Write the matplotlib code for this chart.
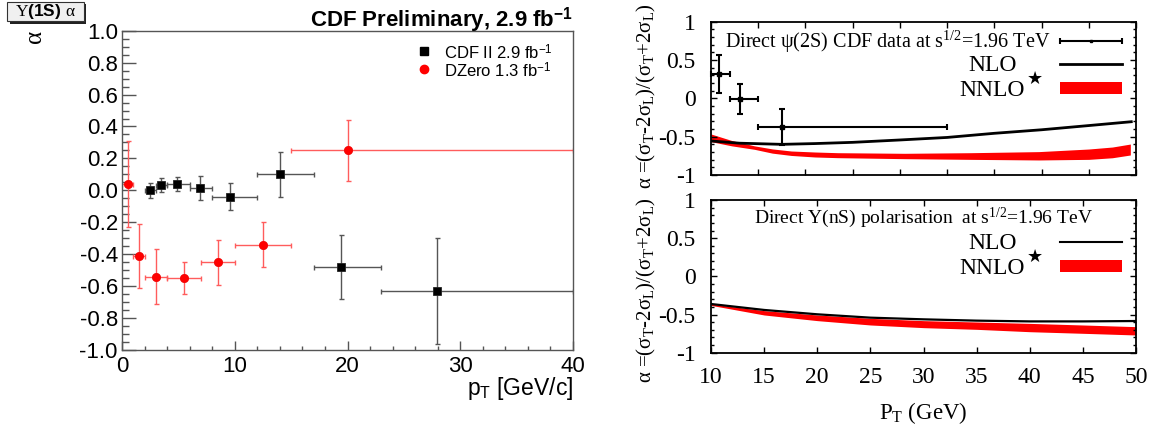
import matplotlib
matplotlib.use("Agg")
import matplotlib.pyplot as plt
from matplotlib.patches import Rectangle
from matplotlib.ticker import MultipleLocator

plt.rcParams['mathtext.fontset'] = 'custom'
plt.rcParams['mathtext.rm'] = 'Liberation Serif'
plt.rcParams['mathtext.it'] = 'Liberation Serif:italic'
plt.rcParams['mathtext.sf'] = 'Liberation Sans'
plt.rcParams['mathtext.bf'] = 'Liberation Sans:bold'

# --- left panel: Upsilon(1S) alpha, CDF vs DZero ---
cdf_pt = [2.5, 3.5, 4.9, 6.9, 9.6, 14.05, 19.45, 27.9]
cdf_xlo = [2, 3, 4, 6, 8, 12, 17, 23]
cdf_xhi = [3, 4, 6, 8, 12, 17, 23, 40]
cdf_alpha = [0.0, 0.035, 0.04, 0.015, -0.04, 0.10, -0.48, -0.63]
cdf_err = [0.045, 0.045, 0.045, 0.075, 0.083, 0.14, 0.20, 0.33]

d0_pt = [0.5, 1.5, 3.0, 5.5, 8.5, 12.5, 20.0]
d0_xlo = [0, 1, 2, 4, 7, 10, 15]
d0_xhi = [1, 2, 4, 7, 10, 15, 40]
d0_alpha = [0.04, -0.41, -0.54, -0.55, -0.45, -0.34, 0.25]
d0_err = [0.27, 0.20, 0.17, 0.10, 0.14, 0.14, 0.19]

# --- right top: direct psi(2S) ---
psi_pt = [5.8, 8.1, 12.5]
psi_xlo = [5, 7, 10]
psi_xhi = [7, 10, 30]
psi_alpha = [0.32, -0.01, -0.37]
psi_err = [0.25, 0.20, 0.235]

psi_nlo_pt = [5, 8, 12.5, 16, 20, 25, 30, 35, 40, 45, 49.5]
psi_nlo = [-0.556, -0.585, -0.60, -0.59, -0.574, -0.543, -0.51, -0.456, -0.41, -0.355, -0.305]

psi_nnlo_pt = [5, 7.2, 9.6, 11.5, 13.5, 16, 18.4, 25.5, 32.5, 39.7, 45, 47.5, 49.4]
psi_nnlo_hi = [-0.465, -0.55, -0.62, -0.66, -0.687, -0.70, -0.709, -0.717, -0.709, -0.695,
               -0.661, -0.635, -0.596]
psi_nnlo_lo = [-0.565, -0.62, -0.665, -0.715, -0.745, -0.765, -0.774, -0.787, -0.796, -0.804,
               -0.796, -0.775, -0.739]

# --- right bottom: direct Upsilon(nS) ---
ups_pt = [10, 15, 20, 25, 30, 35, 40, 45, 50]
ups_nlo = [-0.362, -0.44, -0.497, -0.541, -0.563, -0.58, -0.59, -0.59, -0.585]
ups_nnlo_hi = [-0.362, -0.449, -0.506, -0.55, -0.58, -0.598, -0.616, -0.637, -0.659]
ups_nnlo_lo = [-0.38, -0.506, -0.58, -0.637, -0.672, -0.694, -0.725, -0.746, -0.768]

W, H = 1158, 430
fig = plt.figure(figsize=(W / 100, H / 100), dpi=100)


def box(x0, x1, y0, y1):
    # pixel box -> figure fractions
    return [x0 / W, 1 - y1 / H, (x1 - x0) / W, (y1 - y0) / H]


# ================= left panel (ROOT style) =================
sans = 'Liberation Sans'
ax = fig.add_axes(box(122, 573, 30.7, 350))
ax.set_xlim(0, 40)
ax.set_ylim(-1, 1)

xerr_cdf = [[p - lo for p, lo in zip(cdf_pt, cdf_xlo)], [hi - p for p, hi in zip(cdf_pt, cdf_xhi)]]
ax.errorbar(cdf_pt, cdf_alpha, yerr=cdf_err, xerr=xerr_cdf, fmt='none',
            ecolor='#555555', elinewidth=1, capsize=1.8, capthick=1)
ax.plot(cdf_pt, cdf_alpha, 's', color='black', ms=5.5, mec='#222222', mew=0.6)

xerr_d0 = [[p - lo for p, lo in zip(d0_pt, d0_xlo)], [hi - p for p, hi in zip(d0_pt, d0_xhi)]]
ax.errorbar(d0_pt, d0_alpha, yerr=d0_err, xerr=xerr_d0, fmt='none',
            ecolor='#ff5c5c', elinewidth=1, capsize=1.8, capthick=1)
ax.plot(d0_pt, d0_alpha, 'o', color='#ff0000', ms=6, mec='#ee0000', mew=0.5)

ax.xaxis.set_major_locator(MultipleLocator(10))
ax.xaxis.set_minor_locator(MultipleLocator(2))
ax.yaxis.set_major_locator(MultipleLocator(0.2))
ax.yaxis.set_minor_locator(MultipleLocator(0.05))
ax.set_yticklabels([f"{v:.1f}" for v in ax.get_yticks()])
ax.tick_params(axis='both', which='both', direction='in', top=False, right=False,
               color='#555555', labelsize=16, labelcolor='black')
ax.tick_params(axis='y', which='major', length=10, width=1, pad=3)
ax.tick_params(axis='y', which='minor', length=5, width=1)
ax.tick_params(axis='x', which='major', length=6.5, width=1, pad=4)
ax.tick_params(axis='x', which='minor', length=3.2, width=1)
for lab in ax.get_xticklabels() + ax.get_yticklabels():
    lab.set_fontfamily(sans)
for s in ax.spines.values():
    s.set_color('#555555')
    s.set_linewidth(1)

fig.text(573 / W, 1 - 389 / H, r'p$_{\mathsf{T}}$ [GeV/c]', ha='right', va='center',
         fontsize=16.5, family=sans)
fig.text(573 / W, 1 - 20 / H, r'CDF Preliminary, 2.9 fb$^{\mathbf{-1}}$', ha='right',
         va='center', fontsize=16, family=sans, weight='bold')
fig.text(35 / W, 1 - 36 / H, 'α', rotation=90, ha='center', va='center',
         fontsize=18, family='Liberation Serif')

# legend of left panel
ax.plot([0.67], [0.935], 's', color='black', ms=5.5, transform=ax.transAxes, clip_on=False)
ax.plot([0.67], [0.879], 'o', color='#ff0000', ms=6, transform=ax.transAxes, clip_on=False)
ax.text(0.713, 0.93, r'CDF II 2.9 fb$^{\mathsf{-1}}$', transform=ax.transAxes,
        fontsize=12, family=sans, va='center')
ax.text(0.713, 0.874, r'DZero 1.3 fb$^{\mathsf{-1}}$', transform=ax.transAxes,
        fontsize=12, family=sans, va='center')

# Upsilon(1S) alpha label box with shadow
fig.patches.append(Rectangle((10 / W, 1 - 23.5 / H), 76 / W, 20 / H, transform=fig.transFigure,
                             facecolor='#222222', edgecolor='none'))
fig.patches.append(Rectangle((7.5 / W, 1 - 21 / H), 76 / W, 18.5 / H, transform=fig.transFigure,
                             facecolor='#f0f0f0', edgecolor='#333333', lw=0.8))
fig.text(45.5 / W, 1 - 11.5 / H, r'$\mathrm{Υ}$$\mathbf{(1S)}$ $\mathrm{α}$', ha='center',
         va='center', fontsize=12.5)

# ================= right panels (gnuplot style) =================
serif = ['Liberation Serif', 'DejaVu Sans']
ylab = r'α =(σ$_{\mathrm{T}}$-2σ$_{\mathrm{L}}$)/(σ$_{\mathrm{T}}$+2σ$_{\mathrm{L}}$)'


def style_right(a, xmin, show_xlabels):
    a.set_xlim(xmin, 50)
    a.set_ylim(-1, 1)
    a.xaxis.set_major_locator(MultipleLocator(5))
    a.yaxis.set_major_locator(MultipleLocator(0.5))
    a.yaxis.set_minor_locator(MultipleLocator(0.1))
    a.set_yticks([-1, -0.5, 0, 0.5, 1])
    a.set_yticklabels(['-1', '-0.5', '0', '0.5', '1'])
    a.tick_params(axis='both', which='both', direction='in', top=True, right=True,
                  labelsize=17, width=1)
    a.tick_params(axis='both', which='major', length=4.5)
    a.tick_params(axis='y', which='major', pad=11)
    a.tick_params(axis='x', which='major', pad=10)
    a.tick_params(axis='y', which='minor', length=2.3)
    if not show_xlabels:
        a.tick_params(axis='x', labelbottom=False)
    for lab in a.get_xticklabels() + a.get_yticklabels():
        lab.set_fontfamily('Liberation Serif')
    for s in a.spines.values():
        s.set_linewidth(1.3)


def key_entries(a, thick):
    a.text(0.719, 0.715, 'NLO', transform=a.transAxes, ha='right', va='center',
           fontsize=17, family=serif)
    a.plot([0.822, 0.966], [0.724, 0.724], color='black', lw=2 if thick else 1.5,
           transform=a.transAxes)
    a.text(0.739, 0.553, 'NNLO', transform=a.transAxes, ha='right', va='center',
           fontsize=17, family=serif)
    a.text(0.762, 0.625, '★', transform=a.transAxes, ha='center', va='center',
           fontsize=13, family=['DejaVu Sans'])
    a.add_patch(Rectangle((0.822, 0.528), 0.144, 0.076, transform=a.transAxes,
                          facecolor='#ff0000', edgecolor='none'))


# top: psi(2S)
axt = fig.add_axes(box(711, 1136, 21.7, 175))
axt.fill_between(psi_nnlo_pt, psi_nnlo_lo, psi_nnlo_hi, color='#ff0000', lw=0)
axt.plot(psi_nlo_pt, psi_nlo, color='black', lw=2)
xerr_psi = [[p - lo for p, lo in zip(psi_pt, psi_xlo)], [hi - p for p, hi in zip(psi_pt, psi_xhi)]]
axt.errorbar(psi_pt, psi_alpha, yerr=psi_err, xerr=xerr_psi, fmt='s', color='black',
             ms=3, elinewidth=1.5, capsize=2.5, capthick=1.5, clip_on=False)
style_right(axt, 5, False)
axt.text(0.80, 0.87, r'Direct ψ(2S) CDF data at s$^{\mathrm{1/2}}$=1.96 TeV',
         transform=axt.transAxes, ha='right', va='center', fontsize=14.5, family=serif)
axt.errorbar([0.894], [0.872], xerr=[0.072], fmt='s', color='black', ms=2,
             elinewidth=1.5, capsize=2.5, capthick=1.5, transform=axt.transAxes)
key_entries(axt, True)
axt.set_ylabel(ylab, fontsize=15, family=serif)
axt.yaxis.set_label_coords(-0.125, 0.515)

# bottom: Upsilon(nS)
axb = fig.add_axes(box(711, 1136, 200, 352.7))
axb.fill_between(ups_pt, ups_nnlo_lo, ups_nnlo_hi, color='#ff0000', lw=0)
axb.plot(ups_pt, ups_nlo, color='black', lw=1.6)
style_right(axb, 10, True)
axb.text(0.501, 0.882, r'Direct Υ(nS) polarisation  at s$^{\mathrm{1/2}}$=1.96 TeV',
         transform=axb.transAxes, ha='center', va='center', fontsize=14, family=serif)
key_entries(axb, False)
axb.set_ylabel(ylab, fontsize=15, family=serif)
axb.yaxis.set_label_coords(-0.125, 0.41)
axb.set_xlabel(r'P$_{\mathrm{T}}$ (GeV)', fontsize=16.5, family=serif, labelpad=9)

fig.savefig('out.png', dpi=100)
